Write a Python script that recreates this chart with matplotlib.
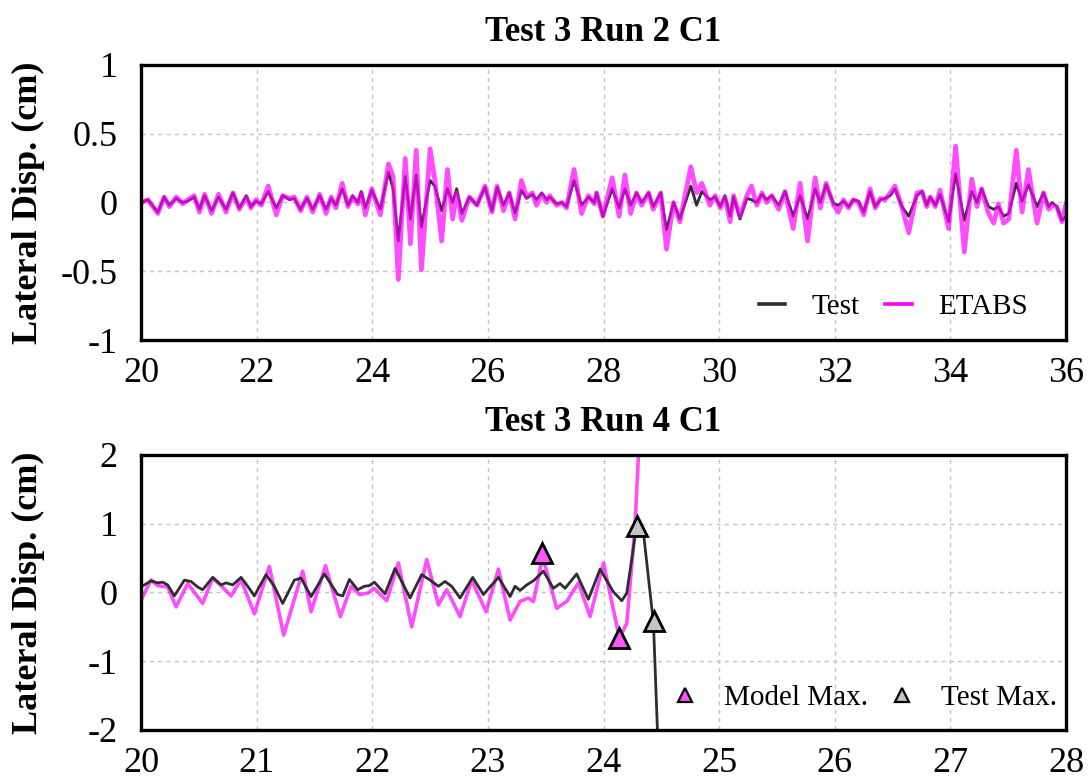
import matplotlib
matplotlib.use("Agg")
import matplotlib.pyplot as plt
from matplotlib.lines import Line2D

plt.rcParams["font.family"] = ["Liberation Serif", "DejaVu Serif"]
plt.rcParams["axes.unicode_minus"] = False
plt.rcParams["lines.solid_joinstyle"] = "round"

# ---- Test 3 Run 2 C1 : lateral displacement (cm) vs time (s) ----
t_run2 = [20.00, 20.12, 20.29, 20.40, 20.49, 20.61, 20.72, 20.81, 20.92, 21.01,
          21.10, 21.22, 21.34, 21.47, 21.59, 21.70, 21.82, 21.90, 21.99, 22.08,
          22.20, 22.34, 22.45, 22.57, 22.65, 22.76, 22.87, 22.97, 23.09, 23.20,
          23.29, 23.37, 23.48, 23.58, 23.66, 23.75, 23.81, 23.88, 23.99, 24.14,
          24.28, 24.36, 24.45, 24.57, 24.66, 24.76, 24.85, 25.00, 25.08, 25.20,
          25.30, 25.39, 25.46, 25.55, 25.68, 25.81, 25.95, 26.07, 26.16, 26.27,
          26.37, 26.47, 26.58, 26.67, 26.77, 26.84, 26.93, 27.02, 27.07, 27.19,
          27.28, 27.36, 27.49, 27.62, 27.74, 27.84, 27.88, 27.99, 28.15, 28.27,
          28.37, 28.47, 28.57, 28.66, 28.78, 28.86, 28.99, 29.09, 29.21, 29.32,
          29.51, 29.61, 29.70, 29.84, 29.93, 30.02, 30.10, 30.19, 30.25, 30.36,
          30.48, 30.56, 30.65, 30.74, 30.82, 30.91, 31.03, 31.14, 31.28, 31.40,
          31.53, 31.66, 31.75, 31.85, 31.98, 32.06, 32.15, 32.24, 32.32, 32.41,
          32.50, 32.61, 32.70, 32.79, 32.87, 32.96, 33.04, 33.16, 33.28, 33.42,
          33.51, 33.59, 33.65, 33.74, 33.82, 33.97, 34.09, 34.24, 34.37, 34.46,
          34.54, 34.66, 34.75, 34.83, 34.92, 35.01, 35.14, 35.24, 35.35, 35.50,
          35.61, 35.70, 35.76, 35.84, 35.93, 36.00]
test_run2 = [0.00, 0.02, -0.07, 0.04, -0.02, 0.03, 0.00, 0.01, 0.04, -0.05,
             0.05, -0.06, 0.04, -0.05, 0.07, -0.04, 0.05, -0.03, 0.01, -0.01,
             0.08, -0.04, 0.05, 0.02, 0.03, -0.05, 0.03, -0.05, 0.05, -0.05,
             0.03, -0.02, 0.10, -0.02, 0.05, 0.00, 0.08, -0.04, 0.09, -0.05,
             0.22, 0.10, -0.28, 0.19, -0.12, 0.20, -0.18, 0.16, 0.12, -0.06,
             0.10, 0.00, 0.10, -0.08, 0.04, -0.02, 0.11, -0.06, 0.11, -0.02,
             0.07, -0.08, 0.09, 0.03, 0.06, 0.02, 0.07, 0.02, 0.04, -0.01,
             0.00, -0.03, 0.16, -0.02, 0.04, 0.00, 0.07, -0.10, 0.10, -0.04,
             0.10, -0.02, 0.07, 0.00, 0.07, -0.03, 0.07, -0.20, 0.00, -0.12,
             0.12, -0.02, 0.08, 0.02, 0.04, -0.03, 0.05, -0.10, 0.04, -0.12,
             0.03, 0.02, 0.00, 0.06, 0.02, 0.05, -0.02, 0.08, -0.10, 0.05,
             -0.12, 0.10, 0.00, 0.13, -0.01, -0.02, 0.01, -0.03, 0.02, 0.01,
             -0.07, 0.08, -0.03, 0.02, 0.03, 0.05, 0.10, -0.03, -0.10, 0.05,
             0.08, -0.02, 0.04, -0.02, 0.06, -0.14, 0.21, -0.13, 0.08, 0.00,
             0.10, -0.03, -0.05, -0.03, -0.10, -0.08, 0.14, 0.01, 0.13, -0.03,
             0.07, -0.03, 0.00, -0.03, -0.13, -0.10]
etabs_run2 = [0.00, 0.02, -0.08, 0.04, -0.03, 0.04, -0.01, 0.02, 0.05, -0.07,
              0.06, -0.08, 0.06, -0.07, 0.07, -0.05, 0.04, -0.04, 0.02, -0.02,
              0.12, -0.09, 0.05, 0.03, 0.04, -0.06, 0.04, -0.07, 0.06, -0.08,
              0.04, -0.04, 0.14, -0.03, 0.04, -0.01, 0.07, -0.09, 0.10, -0.09,
              0.28, 0.19, -0.56, 0.32, -0.30, 0.38, -0.49, 0.39, 0.17, -0.28,
              0.24, -0.12, 0.07, -0.13, 0.04, -0.02, 0.12, -0.07, 0.12, -0.06,
              0.07, -0.12, 0.16, 0.04, 0.07, -0.02, 0.06, 0.00, 0.05, -0.02,
              0.00, -0.04, 0.24, -0.08, 0.05, -0.01, 0.07, -0.10, 0.18, -0.10,
              0.20, -0.08, 0.07, -0.02, 0.07, -0.05, 0.07, -0.34, 0.00, -0.14,
              0.26, 0.07, 0.14, -0.02, 0.05, -0.04, 0.04, -0.14, 0.05, -0.10,
              0.05, 0.12, -0.02, 0.07, 0.00, 0.05, -0.05, 0.08, -0.19, 0.14,
              -0.28, 0.18, -0.04, 0.14, -0.02, -0.07, 0.02, -0.04, 0.02, 0.00,
              -0.09, 0.10, -0.04, 0.03, 0.02, 0.07, 0.12, -0.03, -0.22, 0.07,
              0.08, -0.03, 0.04, -0.03, 0.09, -0.19, 0.41, -0.36, 0.17, -0.03,
              0.10, -0.08, -0.15, -0.01, -0.15, -0.12, 0.38, -0.07, 0.24, -0.15,
              0.07, -0.05, -0.02, -0.03, -0.14, -0.01]

# ---- Test 3 Run 4 C1 ----
t_run4_test = [20.000, 20.029, 20.087, 20.144, 20.187, 20.231, 20.288, 20.375, 20.433, 20.490,
               20.533, 20.620, 20.692, 20.735, 20.793, 20.865, 20.923, 20.980, 21.081, 21.153,
               21.225, 21.326, 21.384, 21.471, 21.586, 21.701, 21.745, 21.802, 21.874, 21.932,
               21.975, 22.018, 22.110, 22.197, 22.327, 22.427, 22.500, 22.572, 22.629, 22.687,
               22.759, 22.869, 22.961, 23.091, 23.192, 23.235, 23.278, 23.336, 23.394, 23.480,
               23.566, 23.624, 23.667, 23.768, 23.869, 23.970, 24.085, 24.158, 24.201, 24.287,
               24.350, 24.432, 24.475]
test_run4 = [0.09, 0.11, 0.17, 0.14, 0.15, 0.11, -0.05, 0.18, 0.16, 0.08,
             0.04, 0.22, 0.11, 0.14, 0.11, 0.22, 0.09, -0.05, 0.26, 0.09,
             -0.16, 0.18, 0.21, -0.06, 0.27, -0.03, -0.05, 0.19, 0.04, 0.09,
             0.10, 0.15, -0.02, 0.35, -0.08, 0.26, 0.18, 0.09, 0.16, 0.09,
             -0.08, 0.22, -0.03, 0.22, -0.06, 0.09, 0.03, 0.11, 0.17, 0.31,
             0.06, 0.13, 0.06, 0.27, -0.10, 0.34, 0.01, -0.12, -0.01, 0.98,
             0.80, -0.45, -2.40]
t_run4_model = [20.000, 20.087, 20.144, 20.231, 20.303, 20.404, 20.533, 20.620, 20.692, 20.779,
                20.865, 20.980, 21.110, 21.234, 21.398, 21.471, 21.595, 21.724, 21.817, 21.889,
                21.961, 22.018, 22.125, 22.226, 22.341, 22.471, 22.572, 22.644, 22.759, 22.860,
                22.984, 23.091, 23.192, 23.278, 23.350, 23.394, 23.474, 23.595, 23.682, 23.783,
                23.884, 24.000, 24.137, 24.201, 24.270, 24.320]
model_run4 = [-0.11, 0.18, 0.10, 0.08, -0.21, 0.13, -0.16, 0.21, 0.10, -0.05,
              0.19, -0.31, 0.38, -0.62, 0.31, -0.28, 0.39, -0.35, 0.09, -0.03,
              -0.01, 0.06, -0.12, 0.43, -0.50, 0.48, -0.18, 0.04, -0.35, 0.18,
              -0.28, 0.34, -0.40, -0.13, -0.08, -0.13, 0.52, -0.23, -0.13, 0.14,
              -0.35, 0.43, -0.66, -0.45, 0.90, 2.60]

# peak markers
model_max_t = [23.47, 24.13]
model_max_v = [0.57, -0.66]
test_max_t = [24.29, 24.44]
test_max_v = [0.96, -0.42]

top_xticks = [20, 22, 24, 26, 28, 30, 32, 34, 36]
top_yticks = [-1, -0.5, 0, 0.5, 1]
top_ylabels = ["-1", "-0.5", "0", "0.5", "1"]
bot_xticks = [20, 21, 22, 23, 24, 25, 26, 27, 28]
bot_yticks = [-2, -1, 0, 1, 2]
bot_ylabels = ["-2", "-1", "0", "1", "2"]

MAGENTA = (1.0, 0.0, 1.0)
DARK = "#2e2e2e"
TICK_FS = 26
TITLE_FS = 25
LEG_FS = 21

fig = plt.figure(figsize=(10.89, 7.82), dpi=100)
ax1 = fig.add_axes([0.1295, 0.5652, 0.8494, 0.3517])
ax2 = fig.add_axes([0.1295, 0.0665, 0.8494, 0.3517])


def style(ax, xticks, yticks, ylabels, title):
    ax.set_xticks(xticks)
    ax.set_xticklabels([str(v) for v in xticks])
    ax.set_yticks(yticks)
    ax.set_yticklabels(ylabels)
    ax.set_xlim(xticks[0], xticks[-1])
    ax.set_ylim(yticks[0], yticks[-1])
    ax.tick_params(length=0, labelsize=TICK_FS)
    ax.tick_params(axis="y", pad=17)
    ax.tick_params(axis="x", pad=12)
    ax.grid(True, color="#c4c4c4", linestyle=(0, (3, 3)), linewidth=1.0)
    ax.set_axisbelow(True)
    for s in ax.spines.values():
        s.set_linewidth(2.4)
        s.set_color("black")
        s.set_zorder(5)
    ax.set_title(title, fontsize=TITLE_FS, fontweight="bold", pad=17)
    ax.set_ylabel("Lateral Disp. (cm)", fontsize=TICK_FS, fontweight="bold")
    ax.yaxis.set_label_coords(-0.104, 0.5)


# top panel
ax1.plot(t_run2, test_run2, color=DARK, lw=2.0, label="Test", zorder=2)
ax1.plot(t_run2, etabs_run2, color=MAGENTA, alpha=0.7, lw=3.4, label="ETABS", zorder=3)
style(ax1, top_xticks, top_yticks, top_ylabels, "Test 3 Run 2 C1")
leg1 = ax1.legend(loc="center right", bbox_to_anchor=(0.971, 0.12), frameon=False,
                  ncol=2, fontsize=LEG_FS, handlelength=0.9, handletextpad=0.9,
                  columnspacing=0.9, borderaxespad=0.0)
for h in leg1.legend_handles:
    h.set_linewidth(2.6)
    h.set_alpha(1.0)

# bottom panel
ax2.plot(t_run4_test, test_run4, color=DARK, lw=2.0, zorder=3)
ax2.plot(t_run4_model, model_run4, color=MAGENTA, alpha=0.7, lw=2.6, zorder=2)
ax2.plot(model_max_t, model_max_v, linestyle="none", marker="^", ms=14,
         mfc="#ff55ff", mec="black", mew=2.0, zorder=6, clip_on=False)
ax2.plot(test_max_t, test_max_v, linestyle="none", marker="^", ms=14,
         mfc="#c4c4c4", mec="black", mew=2.0, zorder=6, clip_on=False)
style(ax2, bot_xticks, bot_yticks, bot_ylabels, "Test 3 Run 4 C1")
handles = [
    Line2D([], [], linestyle="none", marker="^", ms=10, mfc="#ff55ff", mec="black", mew=1.6),
    Line2D([], [], linestyle="none", marker="^", ms=10, mfc="#c4c4c4", mec="black", mew=1.6),
]
ax2.legend(handles, ["Model Max.", "Test Max."], loc="center right",
           bbox_to_anchor=(1.003, 0.116), frameon=False, ncol=2, fontsize=LEG_FS,
           handlelength=0.9, handletextpad=0.9, columnspacing=0.7, borderaxespad=0.0)

fig.savefig("out.png", dpi=100)
